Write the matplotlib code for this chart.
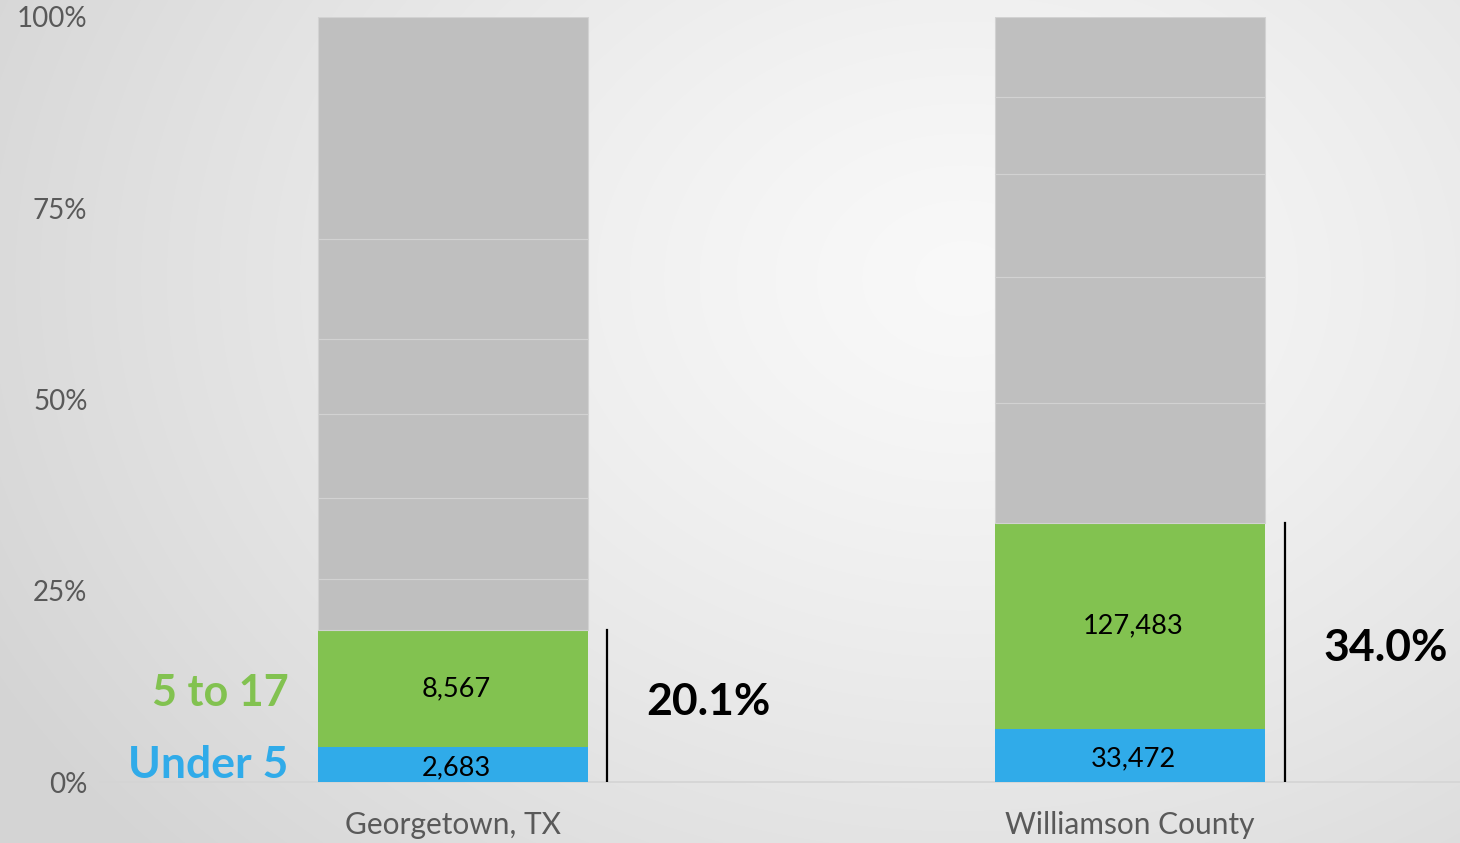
import numpy as np
import matplotlib
matplotlib.use("Agg")
import matplotlib.pyplot as plt

plt.rcParams['font.family'] = ['Lato', 'DejaVu Sans']

# ---- data (segment shares in % of total population) ----
categories = ["Georgetown, TX", "Williamson County"]
under5_pct = [4.6, 6.9]
age5to17_pct = [15.3, 27.0]
other_segments_pct = [
    [6.6, 10.6, 11.0, 9.8, 13.0, 29.1],   # Georgetown older age groups
    [15.6, 16.5, 13.5, 10.0, 10.4],       # Williamson older age groups
]
under5_labels = ["2,683", "33,472"]
age5to17_labels = ["8,567", "127,483"]
total_labels = ["20.1%", "34.0%"]
ytick_vals = [0, 25, 50, 75, 100]
ytick_labels = ["0%", "25%", "50%", "75%", "100%"]

BLUE = "#30ABE9"
GREEN = "#82C250"
GRAY = "#BFBFBF"
TXT = "#595959"

W, H = 1460, 843
fig = plt.figure(figsize=(W / 100, H / 100), dpi=100)

# radial gradient background
bg = fig.add_axes([0, 0, 1, 1], zorder=-10)
yy, xx = np.mgrid[0:H, 0:W]
cx, cy = 0.66 * W, 0.33 * H
r = np.sqrt(((xx - cx) / W) ** 2 + ((yy - cy) / H * 0.75) ** 2)
r = np.clip(r / 0.75, 0, 1)
val = 0.975 - 0.14 * r ** 1.3
bg.imshow(np.dstack([val, val, val]), extent=[0, W, H, 0], aspect='auto')
bg.set_axis_off()

ax = fig.add_axes([100 / W, (H - 782.3) / H, 1360 / W, (782.3 - 16.7) / H])
ax.set_facecolor("none")
x = np.arange(len(categories))
bw = 0.399

ax.bar(x, under5_pct, width=bw, color=BLUE, zorder=3)
ax.bar(x, age5to17_pct, width=bw, bottom=under5_pct, color=GREEN, zorder=3)
for i in range(len(categories)):
    bottom = under5_pct[i] + age5to17_pct[i]
    for seg in other_segments_pct[i]:
        ax.bar(x[i], seg, width=bw, bottom=bottom, color=GRAY,
               edgecolor="#D2D2D2", linewidth=0.8, zorder=3)
        bottom += seg

for i in range(len(categories)):
    u, g = under5_pct[i], age5to17_pct[i]
    ax.text(x[i] + 0.005, u / 2 - 0.4, under5_labels[i], ha='center', va='center',
            fontsize=19.5, color='black', zorder=5)
    ax.text(x[i] + 0.005, u + g / 2, age5to17_labels[i], ha='center', va='center',
            fontsize=19.5, color='black', zorder=5)
    ax.plot([x[i] + 0.228, x[i] + 0.228], [0, u + g], color='black', lw=1.6, zorder=4)
    ax.text(x[i] + 0.377, (u + g) / 2 + 0.6, total_labels[i], ha='center', va='center',
            fontsize=32, fontweight='bold', color='black')

# series labels at left
ax.text(-0.243, under5_pct[0] + age5to17_pct[0] / 2 - 0.6, "5 to 17", ha='right', va='center',
        fontsize=31, fontweight='bold', color=GREEN)
ax.text(-0.243, under5_pct[0] / 2, "Under 5", ha='right', va='center',
        fontsize=32, fontweight='bold', color=BLUE)

ax.set_xlim(-0.521, 1.487)
ax.set_ylim(0, 100)
ax.set_yticks(ytick_vals)
ax.set_yticklabels(ytick_labels, fontsize=20, color=TXT)
ax.set_xticks(x)
ax.set_xticklabels(categories, fontsize=21.5, color=TXT)
ax.tick_params(axis='y', length=0, pad=9)
ax.tick_params(axis='x', length=0, pad=21)
for s in ['top', 'right', 'left']:
    ax.spines[s].set_visible(False)
ax.spines['bottom'].set_color('#D4D4D4')
ax.spines['bottom'].set_linewidth(1.2)

fig.savefig("out.png", dpi=100)
